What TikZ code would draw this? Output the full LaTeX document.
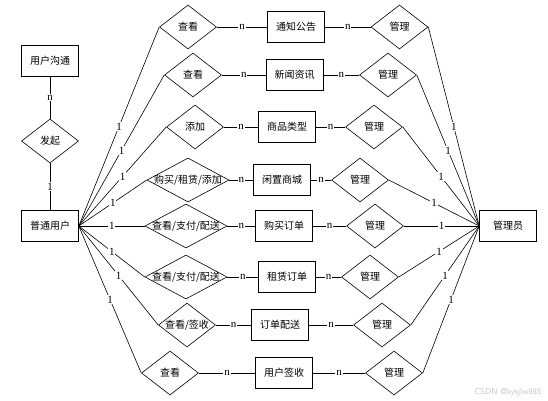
\documentclass[tikz,border=0pt]{standalone}
\usepackage{fontspec}
\setmainfont{Liberation Serif}
\newfontfamily\cjk{Noto Sans CJK SC}
\usetikzlibrary{shapes.geometric}
\begin{document}
\begin{tikzpicture}[x=1pt, y=-1pt, line width=0.6pt,
  entity/.style={rectangle, draw, minimum width=57pt, minimum height=31pt, inner sep=1pt, font=\cjk\fontsize{10}{12}\selectfont},
  rel/.style={diamond, draw, minimum width=57pt, minimum height=44pt, inner sep=0pt, font=\cjk\fontsize{10}{12}\selectfont},
  wide/.style={minimum width=82pt},
  card/.style={fill=white, inner sep=0.8pt, font=\fontsize{11}{12}\selectfont}]
  \useasboundingbox (0,0) rectangle (548,400);
  % left side
  \node[entity] (comm) at (50,61) {用户沟通};
  \node[rel] (start) at (50,141) {发起};
  \node[entity] (user) at (50,226) {普通用户};
  \node[entity] (admin) at (508,226) {管理员};
  \draw (comm) -- node[card] {n} (start);
  \draw (start) -- node[card] {1} (user);
  % user actions
  \node[rel] (u1) at (188,27) {查看};
  \node[rel] (u2) at (193,75) {查看};
  \node[rel] (u3) at (195,127) {添加};
  \node[rel, wide] (u4) at (188,180) {\makebox[0pt]{购买/租赁/添加}};
  \node[rel, wide] (u5) at (186,226) {\makebox[0pt]{查看/支付/配送}};
  \node[rel, wide] (u6) at (186,277) {\makebox[0pt]{查看/支付/配送}};
  \node[rel] (u7) at (187,325) {\makebox[0pt]{查看/签收}};
  \node[rel] (u8) at (170,373) {查看};
  % entities
  \node[entity] (e1) at (296,27) {通知公告};
  \node[entity] (e2) at (294.5,75) {新闻资讯};
  \node[entity] (e3) at (287,127) {商品类型};
  \node[entity] (e4) at (282,180) {闲置商城};
  \node[entity] (e5) at (284,226) {购买订单};
  \node[entity] (e6) at (287,277) {租赁订单};
  \node[entity] (e7) at (280,325) {订单配送};
  \node[entity] (e8) at (284,373) {用户签收};
  % admin actions
  \node[rel] (a1) at (399.5,27) {管理};
  \node[rel] (a2) at (388,75) {管理};
  \node[rel] (a3) at (374,127) {管理};
  \node[rel] (a4) at (360,180) {管理};
  \node[rel] (a5) at (375,226) {管理};
  \node[rel] (a6) at (370,277) {管理};
  \node[rel] (a7) at (382,325) {管理};
  \node[rel] (a8) at (394,373) {管理};
  % user links
  \draw (user.east) -- node[card] {1} (u1.west);
  \draw (user.east) -- node[card] {1} (u2.west);
  \draw (user.east) -- node[card] {1} (u3.west);
  \draw (user.east) -- node[card] {1} (u4.west);
  \draw (user.east) -- node[card] {1} (u5.west);
  \draw (user.east) -- node[card] {1} (u6.west);
  \draw (user.east) -- node[card] {1} (u7.west);
  \draw (user.east) -- node[card] {1} (u8.west);
  % row links
  \draw (u1) -- node[card] {n} (e1);
  \draw (u2) -- node[card] {n} (e2);
  \draw (u3) -- node[card] {n} (e3);
  \draw (u4) -- node[card] {n} (e4);
  \draw (u5) -- node[card] {n} (e5);
  \draw (u6) -- node[card] {n} (e6);
  \draw (u7) -- node[card] {n} (e7);
  \draw (u8) -- node[card] {n} (e8);
  \draw (e1) -- node[card] {n} (a1);
  \draw (e2) -- node[card] {n} (a2);
  \draw (e3) -- node[card] {n} (a3);
  \draw (e4) -- node[card] {n} (a4);
  \draw (e5) -- node[card] {n} (a5);
  \draw (e6) -- node[card] {n} (a6);
  \draw (e7) -- node[card] {n} (a7);
  \draw (e8) -- node[card] {n} (a8);
  % admin links
  \draw (a1.east) -- node[card] {1} (admin.west);
  \draw (a2.east) -- node[card] {1} (admin.west);
  \draw (a3.east) -- node[card] {1} (admin.west);
  \draw (a4.east) -- node[card] {1} (admin.west);
  \draw (a5.east) -- node[card] {1} (admin.west);
  \draw (a6.east) -- node[card] {1} (admin.west);
  \draw (a7.east) -- node[card] {1} (admin.west);
  \draw (a8.east) -- node[card] {1} (admin.west);
  \node[text=gray!45, font=\fontsize{8.5}{9}\sffamily, anchor=east] (mark) at (545,392) {CSDN @bysjlw985};
\end{tikzpicture}
\end{document}
